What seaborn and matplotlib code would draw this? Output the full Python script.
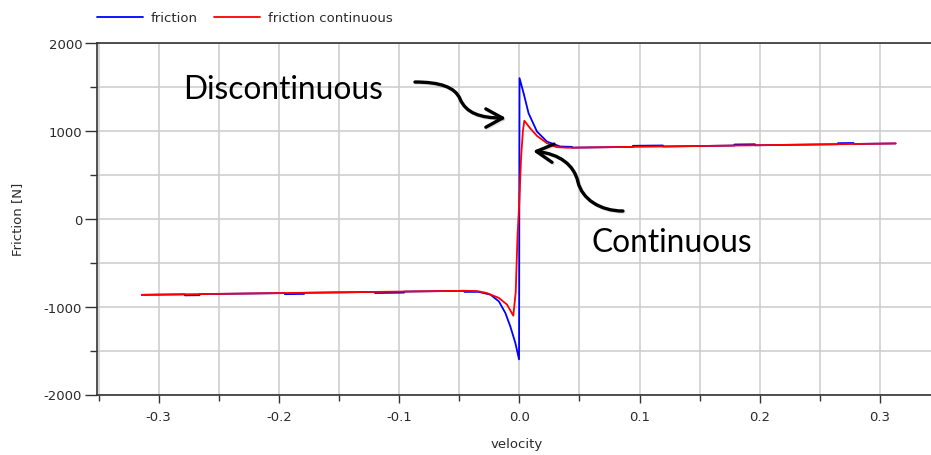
import matplotlib
matplotlib.use("Agg")
import matplotlib.pyplot as plt
import matplotlib.patheffects as pe
import pandas as pd
import seaborn as sns
from matplotlib.lines import Line2D
from matplotlib.patches import FancyArrowPatch
from matplotlib.path import Path
from matplotlib.ticker import FixedLocator, MultipleLocator

# Friction model with a discontinuity at v = 0
velocity_friction = [
    -0.314, -0.278, -0.278, -0.266, -0.266, -0.195, -0.195, -0.179, -0.179,
    -0.120, -0.120, -0.096, -0.096, -0.0456, -0.0456, -0.034, -0.032, -0.024,
    -0.017, -0.0116, -0.0075, -0.0033, -0.0002, 0.0002, 0.0036, 0.0077, 0.0147,
    0.023, 0.034, 0.0437, 0.0437, 0.0945, 0.0945, 0.1194, 0.1194, 0.179, 0.179,
    0.196, 0.196, 0.265, 0.265, 0.278, 0.278, 0.313,
]
friction = [
    -866, -860, -872, -870, -858, -846, -858, -855, -843,
    -833, -845, -841, -829, -820, -832, -832, -838, -864,
    -940, -1072, -1224, -1413, -1600, 1600, 1428, 1201, 992,
    878, 822, 818, 809, 818, 830, 834, 822, 833, 845,
    848, 836, 848, 860, 862, 851, 857,
]

# Regularised (continuous) friction model
velocity_continuous = [
    -0.314, -0.2, -0.1, -0.045, -0.035, -0.027, -0.017, -0.0102, -0.005,
    -0.003, -0.0015, 0.0, 0.0015, 0.003, 0.0042, 0.009, 0.0147, 0.023, 0.031,
    0.04, 0.1, 0.2, 0.313,
]
friction_continuous = [
    -866, -846, -829, -820, -823, -845, -901, -977, -1103,
    -840, -200, 190, 700, 1000, 1116, 1030, 943, 860, 815,
    808, 819, 837, 857,
]

series_names = ["friction", "friction continuous"]
series_colors = ["#0000ff", "#ff0000"]
x_ticks = [-0.3, -0.2, -0.1, 0.0, 0.1, 0.2, 0.3]
y_ticks = [-2000, -1000, 0, 1000, 2000]

sns.set_theme(style="white")
plt.rcParams["font.family"] = ["DejaVu Sans"]
plt.rcParams["axes.unicode_minus"] = False

df = pd.concat([
    pd.DataFrame({"velocity": velocity_friction, "force": friction,
                  "series": series_names[0]}),
    pd.DataFrame({"velocity": velocity_continuous, "force": friction_continuous,
                  "series": series_names[1]}),
], ignore_index=True)

W, H = 931, 456
fig = plt.figure(figsize=(W / 100, H / 100), dpi=100)
ax = fig.add_axes([97.3 / W, 1 - 395.5 / H, 844 / W, 351.5 / H])

sns.lineplot(
    data=df, x="velocity", y="force", hue="series", hue_order=series_names,
    palette=dict(zip(series_names, series_colors)), estimator=None, sort=False,
    linewidth=1.3, legend=False, ax=ax,
)

ax.set_xlim(-0.351, 0.351)
ax.set_ylim(-2000, 2000)

ax.xaxis.set_major_locator(FixedLocator(x_ticks))
ax.xaxis.set_minor_locator(MultipleLocator(0.05))
ax.yaxis.set_major_locator(FixedLocator(y_ticks))
ax.yaxis.set_minor_locator(MultipleLocator(500))
ax.set_xticklabels([f"{t:.1f}" for t in x_ticks])
ax.set_yticklabels([f"{t:d}" for t in y_ticks])

text_color = "#2a2a2a"
axis_color = "#333333"
ax.tick_params(axis="x", which="major", length=6, width=1.0, pad=5,
               color=axis_color, labelcolor=text_color, labelsize=9.5, bottom=True)
ax.tick_params(axis="x", which="minor", length=4, width=1.0,
               color=axis_color, bottom=True)
ax.tick_params(axis="y", which="major", length=8.4, width=1.0, pad=2.5,
               color=axis_color, labelcolor=text_color, labelsize=9.5, left=True)
ax.tick_params(axis="y", which="minor", length=5, width=1.0,
               color=axis_color, left=True)

ax.grid(True, which="both", color="#cccccc", linewidth=1.1)
ax.set_axisbelow(True)
for side in ["left", "bottom", "top", "right"]:
    ax.spines[side].set_visible(True)
    ax.spines[side].set_color(axis_color)
    ax.spines[side].set_linewidth(1.2)

ax.set_xlabel("velocity", fontsize=9.5, color=text_color)
ax.set_ylabel("Friction [N]", fontsize=9.5, color=text_color)
ax.xaxis.set_label_coords(0.497, -0.122)
ax.yaxis.set_label_coords(-0.087, 0.5)

handles = [Line2D([], [], color=c, linewidth=1.3) for c in series_colors]
fig.legend(handles, series_names, loc="center left",
           bbox_to_anchor=(97 / W, 1 - 19 / H), ncol=2, frameon=False,
           fontsize=9.5, labelcolor=text_color, handlelength=3.5,
           handletextpad=0.6, columnspacing=1.2, borderpad=0, borderaxespad=0)

# Callout labels
label_font = ["Lato", "DejaVu Sans"]
t_disc = ax.text(-0.2795, 1371, "Discontinuous", fontfamily=label_font,
                 fontsize=20, color="black", ha="left", va="baseline")
t_cont = ax.text(0.0602, -367, "Continuous", fontfamily=label_font,
                 fontsize=20, color="black", ha="left", va="baseline")
fig.canvas.draw()
renderer = fig.canvas.get_renderer()
scale = 200 / t_disc.get_window_extent(renderer).width
t_disc.set_fontsize(20 * scale)
t_cont.set_fontsize(20 * scale)

# Curved callout arrows
codes = [Path.MOVETO] + [Path.CURVE4] * 6
arrow_paths = [
    [(-0.0868, 1556), (-0.0660, 1556), (-0.0535, 1499), (-0.0493, 1363),
     (-0.0443, 1203), (-0.0327, 1146), (-0.0111, 1146)],
    [(0.0862, 88), (0.0671, 88), (0.0522, 225), (0.0488, 418),
     (0.0455, 612), (0.0339, 737), (0.0114, 771)],
]
for verts in arrow_paths:
    arrow = FancyArrowPatch(
        path=Path(verts, codes), arrowstyle="->,head_length=0.4,head_width=0.22",
        mutation_scale=30, linewidth=2.4, color="black", transform=ax.transData,
        capstyle="round", joinstyle="round", zorder=5,
    )
    arrow.set_path_effects([
        pe.SimpleLineShadow(offset=(0.8, -0.8), shadow_color="black", alpha=0.12),
        pe.Normal(),
    ])
    ax.add_patch(arrow)

fig.savefig("out.png", dpi=100)
